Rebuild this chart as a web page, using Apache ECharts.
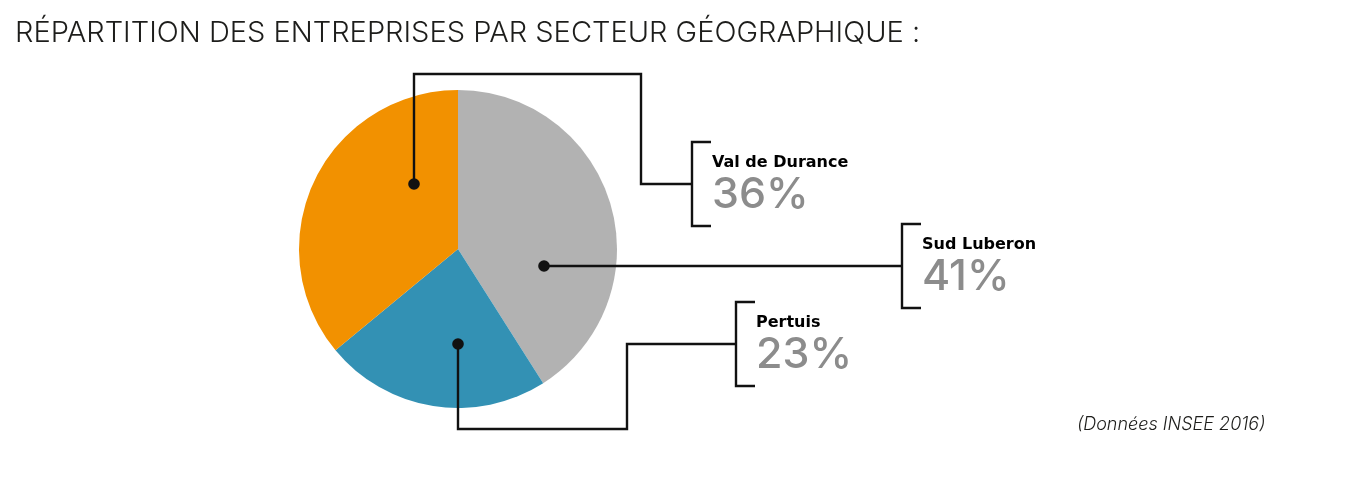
<!DOCTYPE html>
<html>
<head>
<meta charset="utf-8">
<script src="https://cdn.jsdelivr.net/npm/echarts@6/dist/echarts.min.js"></script>
<style>
  html, body { margin: 0; padding: 0; background: #fff; }
  #chart { width: 1350px; height: 484px; }
</style>
</head>
<body>
<div id="chart"></div>
<script>
// Répartition des entreprises par secteur géographique (INSEE 2016)
const sectors = ['Sud Luberon', 'Pertuis', 'Val de Durance'];
const shares = [41, 23, 36];
const sliceColors = ['#B2B2B2', '#3391B4', '#F29100'];

const titleText = 'RÉPARTITION DES ENTREPRISES PAR SECTEUR GÉOGRAPHIQUE :';
const sourceText = '(Données INSEE 2016)';

// pie placement
const CX = 458, CY = 249, R = 159;

// callout layout for each sector: dot offset from the pie centre,
// optional detour (turnY / elbowX) and the x of the label bracket
const callouts = [
  { dot: [86, 17], bracketX: 902 },
  { dot: [0, 95], turnY: 429, elbowX: 627, bracketX: 736 },
  { dot: [-44, -65], turnY: 74, elbowX: 641, bracketX: 692 }
];

const FONT = 'Inter, "Noto Sans", sans-serif';
const NAME_FONT = '"DejaVu Sans", Inter, sans-serif';
const INK = '#111111';
const LINE_W = 2.4;

function buildCallouts() {
  const els = [];
  sectors.forEach((name, i) => {
    const c = callouts[i];
    const dx = CX + c.dot[0], dy = CY + c.dot[1];
    const pts = [[dx, dy]];
    if (c.turnY != null) {
      pts.push([dx, c.turnY], [c.elbowX, c.turnY], [c.elbowX, dy]);
    }
    pts.push([c.bracketX, dy]);
    els.push({
      type: 'polyline', z: 100, silent: true,
      shape: { points: pts },
      style: { stroke: INK, lineWidth: LINE_W, fill: null }
    });
    // bracket around the label
    const bx = c.bracketX, h = 42, tick = 19;
    els.push({
      type: 'polyline', z: 100, silent: true,
      shape: { points: [[bx + tick, dy - h], [bx, dy - h], [bx, dy + h], [bx + tick, dy + h]] },
      style: { stroke: INK, lineWidth: LINE_W, fill: null }
    });
    els.push({
      type: 'circle', z: 101, silent: true,
      shape: { cx: dx, cy: dy, r: 5.8 },
      style: { fill: INK }
    });
    els.push({
      type: 'text', z: 100, silent: true,
      x: bx + 20, y: dy - 21,
      style: {
        text: name, fill: '#000', font: 'bold 16px ' + NAME_FONT,
        align: 'left', verticalAlign: 'middle'
      }
    });
    els.push({
      type: 'text', z: 100, silent: true,
      x: bx + 20, y: dy + 11,
      style: {
        text: shares[i] + '%', fill: '#8C8C8C', font: '500 43px ' + FONT,
        align: 'left', verticalAlign: 'middle'
      }
    });
  });
  return els;
}

const chart = echarts.init(document.getElementById('chart'), null, { renderer: 'canvas' });
chart.setOption({
  backgroundColor: '#ffffff',
  animation: false,
  title: [
    {
      text: titleText, left: 10, top: 14,
      textStyle: { fontFamily: FONT, fontSize: 29, fontWeight: 300, color: '#1d1d1b' }
    },
    {
      text: sourceText, left: 1072, top: 411,
      textStyle: { fontFamily: FONT, fontSize: 18, fontWeight: 300, fontStyle: 'italic', color: '#1d1d1b' }
    }
  ],
  series: [{
    type: 'pie',
    center: [CX, CY],
    radius: R,
    startAngle: 90,
    clockwise: true,
    silent: true,
    label: { show: false },
    labelLine: { show: false },
    emphasis: { disabled: true },
    data: sectors.map((name, i) => ({
      name, value: shares[i], itemStyle: { color: sliceColors[i] }
    }))
  }],
  graphic: buildCallouts()
});
</script>
</body>
</html>
